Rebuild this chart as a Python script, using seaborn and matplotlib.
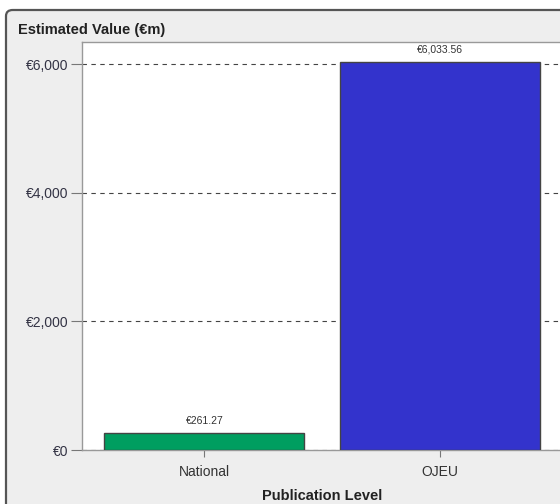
import seaborn as sns
import matplotlib.pyplot as plt
import pandas as pd
from matplotlib.patches import FancyBboxPatch
from matplotlib.ticker import FuncFormatter

levels = ["National", "OJEU"]
values = [261.27, 6033.56]
bar_colors = ["#009e60", "#3333cc"]


def main():
    sns.set_theme(style="white")
    plt.rcParams["font.family"] = ["Liberation Sans", "DejaVu Sans"]

    df = pd.DataFrame({"level": levels, "value": values})

    fig = plt.figure(figsize=(5.6, 5.04), dpi=100, facecolor="white")

    # grey rounded panel behind the chart (runs off the right and bottom edge)
    panel = FancyBboxPatch((6 / 560, -0.05), 1.2, 1 - 10 / 504 + 0.05,
                           boxstyle="round,pad=0,rounding_size=0.012",
                           transform=fig.transFigure, facecolor="#eeeeee",
                           edgecolor="#555555", linewidth=1.6, zorder=-5)
    fig.patches.append(panel)

    ax = fig.add_axes([82 / 560, 1 - 450 / 504, 480 / 560, 408 / 504])
    ax.set_facecolor("white")

    sns.barplot(data=df, x="level", y="value", hue="level", palette=bar_colors,
                width=0.85, saturation=1, edgecolor="#444444", linewidth=1.0,
                legend=False, ax=ax, zorder=3)

    ax.set_xlim(-0.52, 1.52)
    ax.set_ylim(0, 6342)
    ax.set_yticks([0, 2000, 4000, 6000])
    ax.yaxis.set_major_formatter(FuncFormatter(lambda v, p: f"€{v:,.0f}"))
    ax.yaxis.grid(True, linestyle=(0, (4, 4)), color="#444444", linewidth=0.8, zorder=1)
    ax.set_axisbelow(True)

    for s in ax.spines.values():
        s.set_color("#999999")
        s.set_linewidth(1.0)

    ax.tick_params(axis="y", direction="out", length=8, width=0.8, color="#777777",
                   labelsize=10, labelcolor="#333344", pad=2, left=True)
    ax.tick_params(axis="x", direction="out", length=5, width=0.8, color="#777777",
                   labelsize=10, labelcolor="#333333", pad=6, bottom=True)

    for i, v in enumerate(values):
        ax.annotate(f"€{v:,.2f}", (i, v), xytext=(0, 5), textcoords="offset points",
                    ha="center", va="bottom", fontsize=7.5, color="#333333")

    ax.set_xlabel("Publication Level", fontsize=10.5, fontweight="bold",
                  color="#222222", labelpad=7)
    ax.set_ylabel("")

    fig.text(18 / 560, 1 - 30 / 504, "Estimated Value (€m)", fontsize=10.5,
             fontweight="bold", color="#222222", ha="left", va="center")

    fig.savefig("out.png", dpi=100, facecolor=fig.get_facecolor())


if __name__ == "__main__":
    main()
